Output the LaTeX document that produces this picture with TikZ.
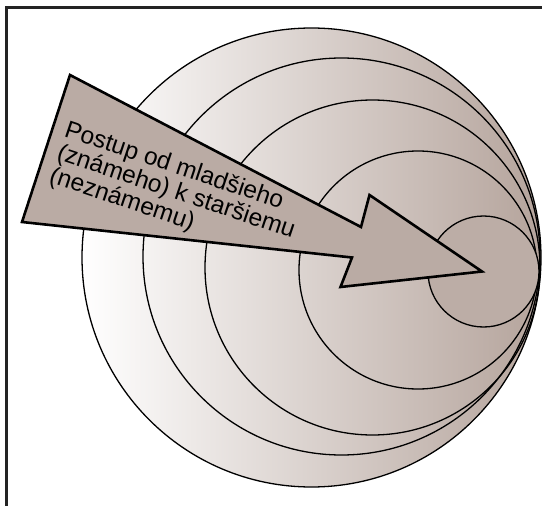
\documentclass[tikz,border=0pt]{standalone}
\usepackage{fontspec}
\newfontfamily\arialf{Liberation Sans}
\definecolor{arrowfill}{RGB}{186,171,164}
\definecolor{circright}{RGB}{181,164,156}
\definecolor{innerfill}{RGB}{188,173,166}
\definecolor{framecol}{RGB}{35,35,35}
\tikzset{
  ring/.style={draw=black, line width=1.3pt},
  bigarrow/.style={draw=black, fill=arrowfill, line width=2.6pt, line join=miter},
  label/.style={font=\arialf\fontsize{24.5}{22}\selectfont, rotate=-18.5, anchor=base west, inner sep=0pt, align=left, text=black}
}
\begin{document}
\begin{tikzpicture}[x=1pt,y=-1pt]
\useasboundingbox (0,0) rectangle (542,506);
% frame (right and bottom edges cut off)
\draw[framecol, line width=2.6pt] (6.5,506) -- (6.5,7.5) -- (542,7.5);
% gradient disc
\shade[left color=white, right color=circright] (311.5,257.5) circle[radius=229.5pt];
% rings
\draw[ring] (311.5,257.5) circle[radius=229.5pt];
\draw[ring] (341.5,256.5) circle[radius=198.5pt];
\draw[ring] (372.5,267.5) circle[radius=167.5pt];
\draw[ring] (418,270) circle[radius=119pt];
\draw[ring, fill=innerfill] (483.5,271.5) circle[radius=55.5pt];
% arrow
\coordinate (tailtop) at (70,75);
\coordinate (tailbot) at (22,222);
\coordinate (notchup) at (361,227);
\coordinate (barbup) at (369.5,195);
\coordinate (tip) at (482,271.5);
\coordinate (barbdn) at (340.5,287);
\coordinate (notchdn) at (352,257.5);
\draw[bigarrow] (tailtop) -- (notchup) -- (barbup) -- (tip) -- (barbdn) -- (notchdn) -- (tailbot) -- cycle;
% text (base anchor = baseline of the last line)
\node[label] (txt) at (48,182) {Postup od mlad\v{s}ieho\\(zn\'ameho) k star\v{s}iemu\\(nezn\'amemu)};
\end{tikzpicture}
\end{document}
